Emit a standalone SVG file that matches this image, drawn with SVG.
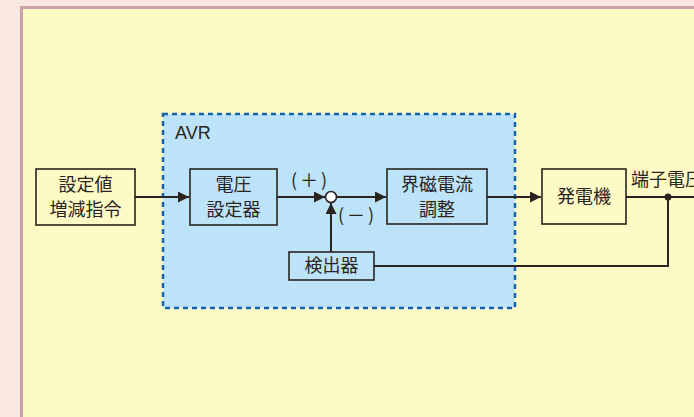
<svg xmlns="http://www.w3.org/2000/svg" width="694" height="417" viewBox="0 0 694 417">
<style>
.node rect{fill:none;stroke:#2a2320;stroke-width:1.6}
.t{font-family:"Noto Sans CJK JP","Noto Sans",sans-serif;font-size:18px;fill:#2a2320;text-anchor:middle}
.l{font-family:"Noto Sans CJK JP","Noto Sans",sans-serif;font-size:18px;fill:#2a2320}
.c{fill:none;stroke:#2a2320;stroke-width:2}
</style>
<defs>
<marker id="ah" viewBox="0 0 10 10" refX="10" refY="5" markerWidth="11" markerHeight="11" markerUnits="userSpaceOnUse" orient="auto">
<path d="M0,0 L10,5 L0,10 z" fill="#2a2320"/>
</marker>
</defs>
<rect x="0" y="0" width="694" height="417" fill="#fae7df"/>
<rect x="21.5" y="7.5" width="690" height="420" fill="#fefac6" stroke="#c9a1a8" stroke-width="3"/>
<g id="avr">
<rect x="163" y="114" width="352" height="194" fill="#bde3f8" stroke="#1663b3" stroke-width="2.5" stroke-dasharray="5,4"/>
<text x="175" y="139" font-family="Liberation Sans,Arial,sans-serif" font-size="18" fill="#2a2320">AVR</text>
</g>
<g id="connectors">
<path class="c" d="M135,197 H189" marker-end="url(#ah)"/>
<path class="c" d="M277,197 H325" marker-end="url(#ah)"/>
<path class="c" d="M331,252 V203" marker-end="url(#ah)"/>
<path class="c" d="M337,197 H386" marker-end="url(#ah)"/>
<path class="c" d="M487,197 H541" marker-end="url(#ah)"/>
<path class="c" d="M626,197 H694"/>
<path class="c" d="M668,197 V266 H374"/>
<circle cx="668" cy="197" r="3.5" fill="#2a2320"/>
<circle cx="331" cy="197" r="5.5" fill="#ffffff" stroke="#2a2320" stroke-width="1.6"/>
<text class="l" x="291" y="187" letter-spacing="3">(＋)</text>
<text class="l" x="338" y="222" letter-spacing="3">(－)</text>
<text class="l" x="631" y="186">端子電圧</text>
</g>
<g id="n1" class="node">
<rect x="36" y="169" width="99" height="56" fill="#fefac6"/>
<text class="t" x="85.5" y="191">設定値</text>
<text class="t" x="85.5" y="216">増減指令</text>
</g>
<g id="n2" class="node">
<rect x="190" y="169" width="87" height="56"/>
<text class="t" x="233.5" y="191">電圧</text>
<text class="t" x="233.5" y="216">設定器</text>
</g>
<g id="n3" class="node">
<rect x="387" y="169" width="100" height="55"/>
<text class="t" x="437" y="191">界磁電流</text>
<text class="t" x="437" y="216">調整</text>
</g>
<g id="n4" class="node">
<rect x="289" y="252" width="85" height="28"/>
<text class="t" x="331.5" y="272">検出器</text>
</g>
<g id="n5" class="node">
<rect x="542" y="169" width="84" height="55"/>
<text class="t" x="584" y="203">発電機</text>
</g>
</svg>
